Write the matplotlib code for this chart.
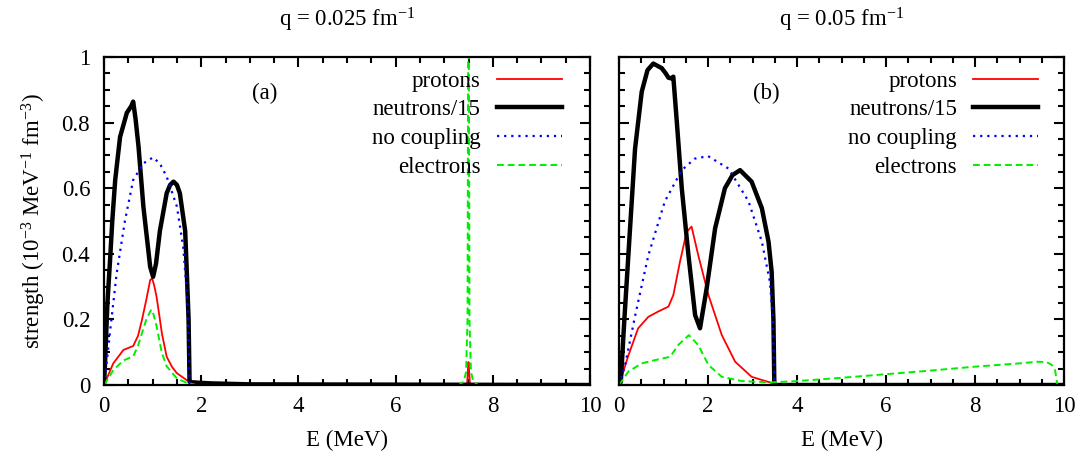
import matplotlib
matplotlib.use("Agg")
import matplotlib.pyplot as plt
from matplotlib.ticker import MultipleLocator, FormatStrFormatter

plt.rcParams['font.family'] = ['Liberation Serif', 'DejaVu Serif']
plt.rcParams['mathtext.default'] = 'regular'

# ---- panel (a): q = 0.025 fm^-1 ----
e_prot_a = [0, 0.19, 0.4, 0.6, 0.7, 0.78, 0.87, 0.95, 0.99, 1.03, 1.08, 1.14, 1.19, 1.29, 1.4, 1.5, 1.7,
            1.9, 2.2, 2.6, 3.0, 7.4, 7.47, 7.49, 7.5, 7.51, 7.53, 7.6, 10]
prot_a = [0, 0.066, 0.107, 0.119, 0.15, 0.198, 0.26, 0.32, 0.325, 0.305, 0.27, 0.21, 0.158, 0.086, 0.055,
          0.036, 0.015, 0.01, 0.005, 0.002, 0, 0, 0, 0.05, 0.07, 0.05, 0, 0, 0]

e_neut_a = [0, 0.03, 0.07, 0.12, 0.17, 0.23, 0.33, 0.47, 0.56, 0.6, 0.65, 0.71, 0.81, 0.95, 1.01, 1.07,
            1.15, 1.29, 1.36, 1.43, 1.5, 1.56, 1.67, 1.71, 1.74, 1.76, 1.8, 2.2, 3, 10]
neut_a = [0, 0.1, 0.25, 0.37, 0.5, 0.625, 0.756, 0.83, 0.85, 0.864, 0.81, 0.727, 0.544, 0.36, 0.33, 0.37,
          0.47, 0.585, 0.61, 0.62, 0.61, 0.585, 0.47, 0.32, 0.2, 0.01, 0.008, 0.005, 0.002, 0]

e_free_a = [0, 0.02, 0.12, 0.26, 0.43, 0.6, 0.81, 1.01, 1.15, 1.29, 1.5, 1.63, 1.71, 1.74, 1.76]
free_a = [0, 0.02, 0.158, 0.34, 0.5, 0.625, 0.676, 0.694, 0.675, 0.635, 0.544, 0.42, 0.27, 0.15, 0]

e_elec_a = [0, 0.19, 0.4, 0.6, 0.7, 0.78, 0.87, 0.97, 1.02, 1.08, 1.19, 1.29, 1.5, 1.7, 1.9,
            7.3, 7.4, 7.45, 7.48, 7.5, 7.52, 7.55, 7.6, 7.7, 10]
elec_a = [0, 0.045, 0.075, 0.087, 0.12, 0.158, 0.2, 0.23, 0.215, 0.18, 0.098, 0.057, 0.02, 0.007, 0,
          0, 0.01, 0.04, 0.2, 1.5, 0.2, 0.04, 0.01, 0, 0]

# ---- panel (b): q = 0.05 fm^-1 ----
e_prot_b = [0, 0.21, 0.43, 0.66, 0.88, 1.11, 1.22, 1.37, 1.52, 1.63, 1.78, 2.01, 2.31, 2.61, 2.98, 3.39,
            3.55, 10]
prot_b = [0, 0.09, 0.173, 0.208, 0.224, 0.239, 0.274, 0.376, 0.467, 0.483, 0.396, 0.274, 0.152, 0.071,
          0.025, 0.008, 0, 0]

e_neut_b = [0, 0.04, 0.12, 0.21, 0.36, 0.51, 0.64, 0.77, 0.96, 1.05, 1.11, 1.17, 1.22, 1.3, 1.41, 1.56,
            1.71, 1.82, 1.97, 2.16, 2.38, 2.55, 2.72, 2.98, 3.21, 3.36, 3.43, 3.47, 3.49, 3.6, 10]
neut_b = [0, 0.01, 0.2, 0.396, 0.72, 0.894, 0.96, 0.98, 0.966, 0.95, 0.937, 0.935, 0.94, 0.8, 0.6, 0.396,
          0.213, 0.173, 0.295, 0.478, 0.6, 0.64, 0.655, 0.62, 0.539, 0.437, 0.345, 0.2, 0, 0, 0]

e_free_b = [0, 0.135, 0.36, 0.66, 1.03, 1.41, 1.7, 2.0, 2.46, 2.91, 3.21, 3.39, 3.46, 3.49]
free_b = [0, 0.06, 0.21, 0.396, 0.56, 0.655, 0.69, 0.698, 0.66, 0.56, 0.437, 0.315, 0.2, 0]

e_elec_b = [0, 0.21, 0.51, 0.81, 1.15, 1.33, 1.57, 1.78, 2.01, 2.31, 2.76, 3.39, 4, 5, 6, 7, 8, 9, 9.4,
            9.6, 9.72, 9.8, 9.85]
elec_b = [0, 0.041, 0.066, 0.076, 0.086, 0.122, 0.152, 0.122, 0.061, 0.025, 0.012, 0.008, 0.012, 0.022,
          0.033, 0.044, 0.056, 0.066, 0.071, 0.07, 0.062, 0.045, 0]

titles = ['q = 0.025 fm$^{-1}$', 'q = 0.05 fm$^{-1}$']
panel_tags = ['(a)', '(b)']
fs = 16.5

fig = plt.figure(figsize=(10.79, 4.55), dpi=100)
ax_a = fig.add_axes([0.0964, 0.1538, 0.4504, 0.7209])
ax_b = fig.add_axes([0.5737, 0.1538, 0.4124, 0.7209])

panels = [
    (ax_a, e_prot_a, prot_a, e_neut_a, neut_a, e_free_a, free_a, e_elec_a, elec_a),
    (ax_b, e_prot_b, prot_b, e_neut_b, neut_b, e_free_b, free_b, e_elec_b, elec_b),
]

for i, (ax, ep, p, en, n, ef, f, ee, el) in enumerate(panels):
    ax.plot(ep, p, color='#ff0000', lw=1.3, solid_joinstyle='round', label='protons')
    ax.plot(en, n, color='black', lw=3.2, solid_joinstyle='round', label='neutrons/15')
    ax.plot(ef, f, color='#0000ff', lw=1.6, linestyle=(0, (1, 2.2)), label='no coupling')
    ax.plot(ee, el, color='#00ee00', lw=1.4, linestyle=(0, (3.5, 2)), label='electrons')

    ax.set_xlim(0, 10)
    ax.set_ylim(0, 1)
    ax.xaxis.set_major_locator(MultipleLocator(2))
    ax.xaxis.set_minor_locator(MultipleLocator(0.5))
    ax.yaxis.set_major_locator(MultipleLocator(0.2))
    ax.yaxis.set_minor_locator(MultipleLocator(0.05))
    ax.xaxis.set_major_formatter(FormatStrFormatter('%g'))
    ax.yaxis.set_major_formatter(FormatStrFormatter('%g'))
    ax.tick_params(which='both', direction='in', top=True, right=True, labelsize=fs, width=1.5)
    ax.tick_params(which='major', length=7)
    ax.tick_params(which='minor', length=4)
    ax.tick_params(axis='x', which='major', pad=8)
    ax.tick_params(axis='y', which='major', pad=10)
    for s in ax.spines.values():
        s.set_linewidth(1.6)
    ax.set_xlabel('E (MeV)', fontsize=fs, labelpad=9)
    ax.set_title(titles[i], fontsize=fs, pad=22)
    ax.text(3.3, 0.89, panel_tags[i], fontsize=fs, ha='center', va='center')
    ax.legend(loc='upper right', bbox_to_anchor=(0.942, 0.958), frameon=False, markerfirst=False,
              fontsize=fs, handlelength=2.84, handletextpad=0.7, labelspacing=0.33,
              borderaxespad=0, borderpad=0)

ax_b.tick_params(axis='y', labelleft=False)
ax_a.set_ylabel('strength (10$^{-3}$ MeV$^{-1}$ fm$^{-3}$)', fontsize=fs, labelpad=10)

fig.savefig('out.png', dpi=100)
